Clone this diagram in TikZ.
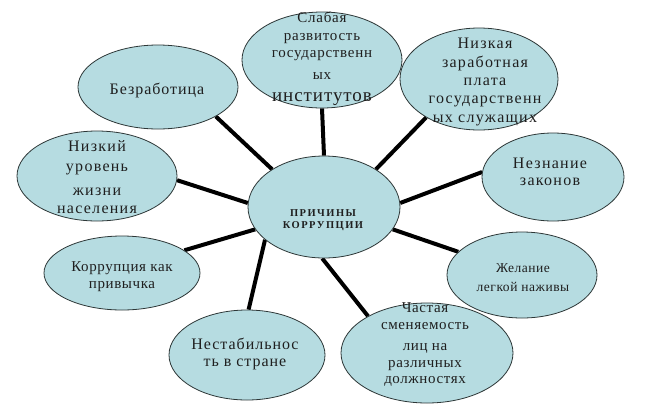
\documentclass[tikz,border=0pt]{standalone}
\usepackage{fontspec}
\setmainfont{Liberation Serif}
\usetikzlibrary{shapes.geometric,backgrounds}
\definecolor{bubble}{RGB}{182,220,225}
\definecolor{rim}{RGB}{45,55,55}
\tikzset{
  bub/.style={ellipse, draw=rim, line width=0.8pt, fill=bubble, inner sep=0pt},
  lbl/.style={align=center, inner sep=0pt, text=black!88},
  spoke/.style={line width=4pt, black},
}
\begin{document}
\begin{tikzpicture}[x=1pt,y=-1pt]
\useasboundingbox (0,0) rectangle (648,408);

% ellipses
\node[bub, minimum width=152pt, minimum height=102pt] (c) at (324,207) {};
\node[bub, minimum width=160pt, minimum height=96pt] (inst) at (322,60) {};
\node[bub, minimum width=158pt, minimum height=102pt] (zarab) at (479,79) {};
\node[bub, minimum width=160pt, minimum height=84pt] (bez) at (158,87) {};
\node[bub, minimum width=160pt, minimum height=90pt] (nizk) at (97,176) {};
\node[bub, minimum width=142pt, minimum height=88pt] (znan) at (553,177) {};
\node[bub, minimum width=156pt, minimum height=74pt] (korr) at (122,273) {};
\node[bub, minimum width=150pt, minimum height=86pt] (zhel) at (522,275) {};
\node[bub, minimum width=156pt, minimum height=90pt] (nest) at (247,355) {};
\node[bub, minimum width=172pt, minimum height=100pt] (chast) at (427,353) {};

% background and connectors
\begin{scope}[on background layer]
\fill[white] (0,0) rectangle (648,408);
\draw[spoke] (c.90) -- (inst.270);
\draw[spoke] (c.36) -- (zarab.216);
\draw[spoke] (c.144) -- (bez.333);
\draw[spoke] (c.177) -- (nizk.357);
\draw[spoke] (c.3) -- (znan.176);
\draw[spoke] (c.198) -- (korr.20);
\draw[spoke] (c.342) -- (zhel.160);
\draw[spoke] (c.209) -- (nest.88);
\draw[spoke] (c.268) -- (chast.148);
\end{scope}

% texts
\node[lbl, font=\fontsize{15}{17.5}\selectfont\addfontfeatures{LetterSpace=5}] (tinst) at (322,59)
  {Слабая\\развитость\\государственн\\[4pt]ых\\[5pt]{\fontsize{19}{19}\selectfont институтов}};
\node[lbl, font=\fontsize{16}{18.3}\selectfont\addfontfeatures{LetterSpace=8}] (tzarab) at (485,82)
  {Низкая\\заработная\\плата\\государственн\\ых служащих};
\node[lbl, font=\fontsize{16}{18}\selectfont\addfontfeatures{LetterSpace=6}] (tbez) at (157,90)
  {Безработица};
\node[lbl, font=\fontsize{16}{20}\selectfont\addfontfeatures{LetterSpace=8}] (tnizk) at (97,177)
  {Низкий\\уровень\\[4pt]жизни\\[-2pt]населения};
\node[lbl, font=\fontsize{16}{17}\selectfont\addfontfeatures{LetterSpace=8}] (tznan) at (550,172)
  {Незнание\\законов};
\node[lbl, font=\fontsize{15}{17}\selectfont\addfontfeatures{LetterSpace=4}] (tkorr) at (122,277)
  {Коррупция как\\привычка};
\node[lbl, font=\fontsize{13.5}{19}\selectfont\addfontfeatures{LetterSpace=4}] (tzhel) at (523,278)
  {Желание\\легкой наживы};
\node[lbl, font=\fontsize{16}{17}\selectfont\addfontfeatures{LetterSpace=6}] (tnest) at (245,354)
  {Нестабильнос\\ть в стране};
\node[lbl, font=\fontsize{15}{16.5}\selectfont\addfontfeatures{LetterSpace=4}] (tchast) at (425,345)
  {Частая\\сменяемость\\[5pt]лиц на\\различных\\должностях};
\node[lbl, font=\bfseries\fontsize{10.5}{12}\selectfont\addfontfeatures{LetterSpace=14}] (tc) at (323,220)
  {ПРИЧИНЫ\\КОРРУПЦИИ};
\end{tikzpicture}
\end{document}
